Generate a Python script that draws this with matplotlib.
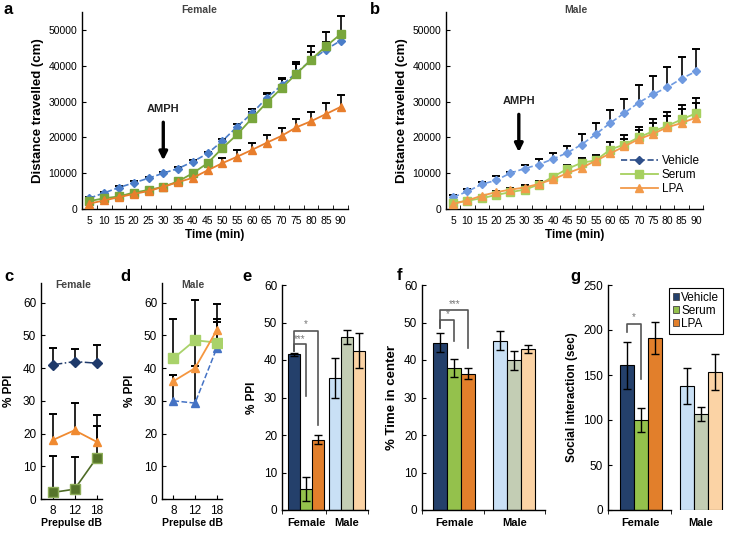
import numpy as np
import matplotlib
matplotlib.use('Agg')
from matplotlib import pyplot as plt
from matplotlib.patches import Patch
from matplotlib.lines import Line2D

plt.rcParams['font.family'] = ['Liberation Sans', 'DejaVu Sans']

# ---- data ----
times = [5, 10, 15, 20, 25, 30, 35, 40, 45, 50, 55, 60, 65, 70, 75, 80, 85, 90]

f_vehicle = [3000, 4500, 6000, 7300, 8600, 10000, 11300, 13200, 15500, 19000, 23000, 26700, 31000, 34500, 38000, 41500, 44500, 47000]
f_vehicle_err = [300, 300, 400, 400, 400, 400, 500, 500, 500, 500, 600, 1100, 1300, 1800, 2500, 2400, 2200, 2500]
f_serum = [2200, 3000, 3500, 4600, 5300, 6200, 7700, 10000, 12800, 17000, 20800, 25300, 29700, 33700, 37700, 41700, 45400, 48800]
f_serum_err = [300, 300, 300, 300, 400, 400, 500, 600, 700, 800, 1000, 1800, 2500, 2800, 3300, 3900, 4100, 5200]
f_lpa = [1500, 2400, 3300, 4200, 5000, 6200, 7500, 8700, 10800, 12800, 14600, 16500, 18500, 20400, 22800, 24500, 26500, 28500]
f_lpa_err = [200, 300, 300, 300, 400, 400, 500, 600, 800, 1500, 1800, 1900, 2200, 2300, 2400, 2700, 3100, 3200]

m_vehicle = [3300, 4900, 6900, 8000, 10000, 11300, 12400, 14000, 15700, 18000, 20900, 24000, 26800, 29700, 32000, 34000, 36400, 38400]
m_vehicle_err = [500, 600, 600, 1200, 300, 1000, 1600, 1600, 1900, 2800, 3100, 3700, 4000, 4800, 5200, 5700, 6000, 6400]
m_serum = [1700, 2300, 3000, 3900, 4700, 5400, 6800, 9000, 11200, 12900, 13600, 16600, 18000, 20000, 21700, 23200, 25000, 26700]
m_serum_err = [200, 300, 400, 600, 900, 1000, 800, 500, 1000, 1300, 1600, 2200, 2600, 3000, 3300, 3800, 4000, 4300]
m_lpa = [1400, 2400, 3700, 4700, 5400, 6000, 7000, 8300, 10000, 11500, 13500, 15500, 17500, 19500, 21000, 22800, 24000, 25500]
m_lpa_err = [200, 300, 300, 400, 500, 600, 700, 600, 800, 1100, 1400, 1800, 2000, 2500, 3000, 3200, 3800, 4000]

prepulse = ['8', '12', '18']
c_vehicle = [41, 42, 41.5]
c_vehicle_err = [5, 3.8, 5.5]
c_lpa = [18, 21, 17.5]
c_lpa_err = [8, 8.2, 8.2]
c_serum = [2, 3, 12.5]
c_serum_err = [11, 9.7, 9.7]

d_vehicle = [30, 29.3, 46]
d_vehicle_err = [8, 31.4, 8]
d_serum = [43, 48.5, 47.8]
d_serum_err = [12, 0.5, 7.2]
d_lpa = [36, 40, 51.5]
d_lpa_err = [2, 0.5, 8]

groups = ['Female', 'Male']
treatments = ['Vehicle', 'Serum', 'LPA']
ppi_mean = {'Female': [41.5, 5.7, 18.8], 'Male': [35.3, 46.2, 42.5]}
ppi_err = {'Female': [0.3, 3.2, 1.2], 'Male': [5.3, 1.8, 4.6]}
center_mean = {'Female': [44.6, 38.0, 36.4], 'Male': [45.2, 39.9, 42.9]}
center_err = {'Female': [2.5, 2.4, 1.5], 'Male': [2.6, 2.5, 1.1]}
social_mean = {'Female': [161, 100, 191], 'Male': [138, 107, 153]}
social_err = {'Female': [26, 13, 18], 'Male': [20, 8, 20]}

female_cols = ['#24406b', '#94c14c', '#e27f2b']
male_cols = ['#c9e0f5', '#c3cdb4', '#fbd3a5']

W, H = 734, 534
fig = plt.figure(figsize=(W / 100, H / 100), dpi=100)


def box(l, t, r, b):
    # pixel box -> figure fraction
    return [l / W, 1 - b / H, (r - l) / W, (b - t) / H]


def upper_err(ax, x, y, e, cw=6):
    y = np.asarray(y, float)
    e = np.asarray(e, float)
    ax.vlines(x, y, y + e, color='black', lw=1.2, zorder=2)
    ax.plot(x, y + e, '_', color='black', ms=cw, mew=1.4, zorder=2)


def style(ax):
    for s in ['top', 'right']:
        ax.spines[s].set_visible(False)
    for s in ['left', 'bottom']:
        ax.spines[s].set_linewidth(1.0)


def time_panel(ax, series, title, tx, arrow_x, arrow_y):
    style(ax)
    for y, e, kw in series:
        upper_err(ax, times, y, e)
        ax.plot(times, y, zorder=3, **kw)
    ax.set_xlim(2.5, 92.5)
    ax.set_ylim(0, 55000)
    ax.set_yticks(range(0, 50001, 10000))
    ax.set_xticks(times)
    ax.set_xticks(np.arange(2.5, 93, 5), minor=True)
    ax.tick_params(axis='x', which='major', length=0, labelsize=7.5, pad=5)
    ax.tick_params(axis='x', which='minor', length=3, direction='in')
    ax.tick_params(axis='y', labelsize=7.5, length=3, direction='in')
    ax.set_xlabel('Time (min)', fontsize=8.5, fontweight='bold', labelpad=2)
    ax.set_ylabel('Distance travelled (cm)', fontsize=9.5, fontweight='bold', labelpad=3)
    ax.text(tx, 1.01, title, transform=ax.get_xaxis_transform(), ha='center',
            va='center', fontsize=7.5, fontweight='bold', color='#444444')
    ax.annotate('', xy=(arrow_x, arrow_y[1]), xytext=(arrow_x, arrow_y[0]),
                arrowprops=dict(arrowstyle='-|>', color='black', lw=2.4, mutation_scale=12))
    ax.text(arrow_x, arrow_y[0] + 1500, 'AMPH', ha='center', va='bottom',
            fontsize=8, fontweight='bold', color='#222222')


# ---- a ----
ax_a = fig.add_axes(box(82, 12, 348, 209))
time_panel(ax_a, [
    (f_vehicle, f_vehicle_err, dict(color='#4a7dc9', ls='--', lw=1.2, marker='D', ms=4.5)),
    (f_serum, f_serum_err, dict(color='#79a63c', lw=1.3, marker='s', ms=5.5)),
    (f_lpa, f_lpa_err, dict(color='#e87e2c', lw=1.3, marker='^', ms=5.5)),
], 'Female', 42, 30, (25000, 12800))

# ---- b ----
ax_b = fig.add_axes(box(446, 12, 703, 209))
time_panel(ax_b, [
    (m_vehicle, m_vehicle_err, dict(color='#6f9ae0', ls='--', lw=1.2, marker='D', ms=4.5)),
    (m_serum, m_serum_err, dict(color='#a6d05e', lw=1.3, marker='s', ms=5.5)),
    (m_lpa, m_lpa_err, dict(color='#f29a4a', lw=1.3, marker='^', ms=5.5)),
], 'Male', 48, 28, (27200, 15100))
handles = [
    Line2D([], [], color='#2e4f8a', ls='--', lw=1.2, marker='D', ms=4.5),
    Line2D([], [], color='#a6d05e', lw=1.3, marker='s', ms=5.5),
    Line2D([], [], color='#f29a4a', lw=1.3, marker='^', ms=5.5),
]
ax_b.legend(handles, treatments, loc='lower right', bbox_to_anchor=(1.02, 0.03),
            frameon=False, fontsize=8.5, handlelength=3.2, handletextpad=0.3,
            labelspacing=0.15, borderpad=0.2)


# ---- c, d ----
def ppi_panel(ax, series, title):
    style(ax)
    x = np.arange(len(prepulse))
    for y, e, kw in series:
        upper_err(ax, x, y, e)
        ax.plot(x, y, zorder=3, **kw)
    ax.set_xlim(-0.53, 2.25)
    ax.set_ylim(0, 66)
    ax.set_yticks(range(0, 61, 10))
    ax.set_xticks(x)
    ax.set_xticklabels(prepulse)
    ax.tick_params(axis='x', length=3, direction='in', labelsize=8.5, pad=4)
    ax.tick_params(axis='y', length=3, direction='in', labelsize=8.5)
    ax.set_xlabel('Prepulse dB', fontsize=7.5, fontweight='bold', labelpad=1)
    ax.set_ylabel('% PPI', fontsize=8.5, fontweight='bold', labelpad=6)
    ax.text(0.52, 0.99, title, transform=ax.transAxes, ha='center', va='center',
            fontsize=7.5, fontweight='bold', color='#444444')


ax_c = fig.add_axes(box(41, 283, 102, 499))
ppi_panel(ax_c, [
    (c_vehicle, c_vehicle_err, dict(color='#1f3a6b', ls='-.', lw=1.1, marker='D', ms=5)),
    (c_lpa, c_lpa_err, dict(color='#f08a30', lw=1.3, marker='^', ms=6)),
    (c_serum, c_serum_err, dict(color='#4e6b26', lw=1.2, marker='s', ms=6.5,
                                mfc='#56742a', mec='#8fae5a')),
], 'Female')

ax_d = fig.add_axes(box(162, 283, 222, 499))
ppi_panel(ax_d, [
    (d_vehicle, d_vehicle_err, dict(color='#4472c4', ls='--', lw=1.1, marker='^', ms=5.5)),
    (d_serum, d_serum_err, dict(color='#a9d26a', lw=1.3, marker='s', ms=6.5)),
    (d_lpa, d_lpa_err, dict(color='#f5963f', lw=1.3, marker='^', ms=6)),
], 'Male')


# ---- e, f, g bar panels ----
def bar_panel(ax, means, errs, ylim, yticks, ylabel, width, xlim, label_kw):
    style(ax)
    for gi, g in enumerate(groups):
        cols = female_cols if g == 'Female' else male_cols
        xs = gi + (np.arange(3) - 1) * width
        ax.bar(xs, means[g], width=width, color=cols, edgecolor='black', lw=0.8, zorder=2)
        ax.errorbar(xs, means[g], yerr=errs[g], fmt='none', ecolor='black',
                    elinewidth=1.0, capsize=3, capthick=1.0, zorder=3)
    ax.set_xlim(*xlim)
    ax.set_ylim(*ylim)
    ax.set_yticks(yticks)
    ax.set_xticks([0, 1])
    ax.set_xticklabels(groups, fontsize=8, fontweight='bold')
    ax.set_xticks([xlim[0], 0.5, xlim[1]], minor=True)
    ax.tick_params(axis='x', which='major', length=0, pad=6)
    ax.tick_params(axis='x', which='minor', length=3, direction='out')
    ax.tick_params(axis='y', length=3, direction='in', labelsize=8.5)
    ax.set_ylabel(ylabel, **label_kw)


def bracket(ax, x0, x1, top, y0, y1, text, dy):
    ax.plot([x0, x0, x1, x1], [y0, top, top, y1], color='#555555', lw=1.2, zorder=4)
    ax.text((x0 + x1) / 2, top + dy, text, ha='center', va='center',
            fontsize=7, color='#777777')


ax_e = fig.add_axes(box(282, 285, 368, 510))
bar_panel(ax_e, ppi_mean, ppi_err, (0, 60), range(0, 61, 10), '% PPI', 0.29,
          (-0.59, 1.52), dict(fontsize=8.5, fontweight='bold', labelpad=4))
bracket(ax_e, -0.29, 0.29, 47.8, 42.5, 22.7, '*', 1.8)
bracket(ax_e, -0.29, 0.0, 44.3, 42.5, 30.3, '***', 1.3)

ax_f = fig.add_axes(box(422, 285, 545, 510))
bar_panel(ax_f, center_mean, center_err, (0, 60), range(0, 61, 10), '% Time in center', 0.233,
          (-0.54, 1.51), dict(fontsize=9.5, fontweight='bold', labelpad=4))
bracket(ax_f, -0.233, 0.233, 53.4, 48.6, 43.2, '***', 1.5)
bracket(ax_f, -0.233, 0.0, 50.7, 48.6, 45.2, '*', 1.5)

ax_g = fig.add_axes(box(608, 285, 733, 510))
bar_panel(ax_g, social_mean, social_err, (0, 250), range(0, 251, 50), 'Social interaction (sec)', 0.233,
          (-0.55, 1.54), dict(fontsize=8.5, fontweight='bold', labelpad=4))
ax_g.spines['bottom'].set_bounds(-0.55, 0.5)
ax_g.set_xticks([-0.55, 0.5], minor=True)
bracket(ax_g, -0.233, 0.0, 207, 198, 146, '*', 7)
leg_handles = [Patch(facecolor=c, edgecolor='#444444', lw=0.6) for c in female_cols]
ax_g.legend(leg_handles, treatments, loc='upper right', bbox_to_anchor=(0.97, 1.015),
            fontsize=8.5, handlelength=0.55, handleheight=0.55, handletextpad=0.15,
            labelspacing=0.1, borderpad=0.35, fancybox=False, edgecolor='black',
            framealpha=1)
ax_g.get_legend().get_frame().set_linewidth(0.8)

# panel letters
for letter, px, py in [('a', 4, 2), ('b', 370, 2), ('c', 4, 269), ('d', 120, 269),
                       ('e', 242, 269), ('f', 397, 268), ('g', 570, 269)]:
    fig.text(px / W, 1 - py / H, letter, fontsize=12, fontweight='bold', va='top', ha='left')

fig.savefig('out.png', dpi=100)
